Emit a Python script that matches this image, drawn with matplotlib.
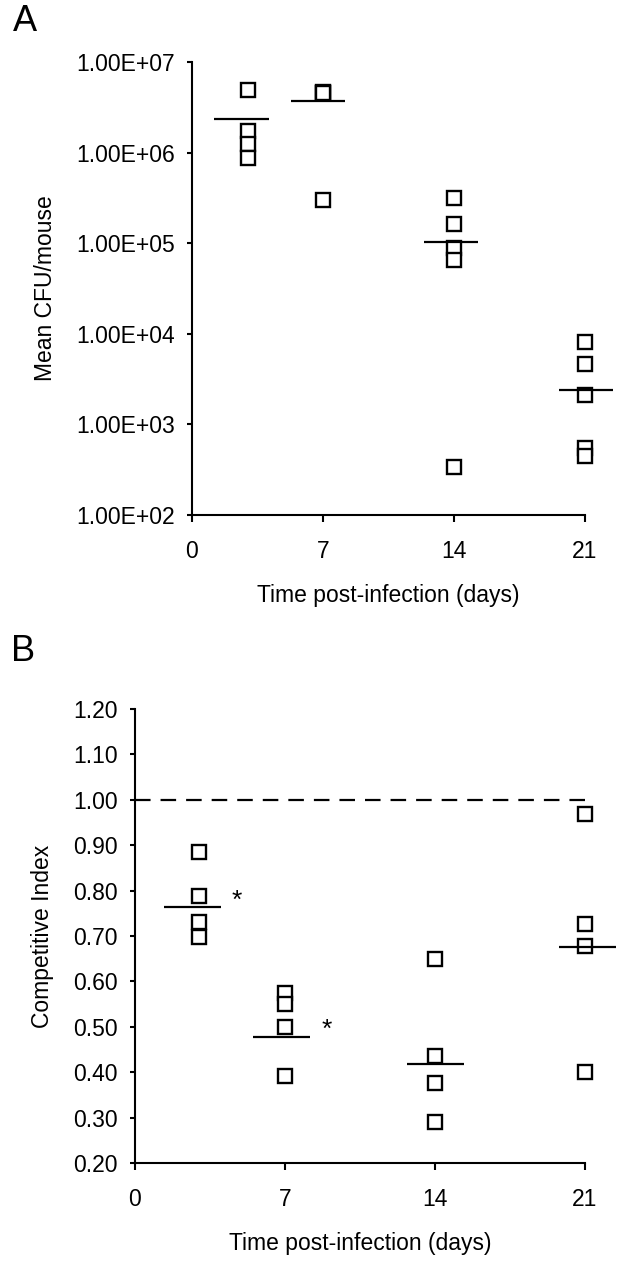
import matplotlib
matplotlib.use("Agg")
import matplotlib.pyplot as plt
import numpy as np

plt.rcParams['font.family'] = ['Liberation Sans', 'DejaVu Sans']

# Panel A: CFU per mouse (log scale)
cfu_days = [3, 3, 3, 3, 7, 7, 7, 7, 14, 14, 14, 14, 14, 21, 21, 21, 21, 21]
cfu_vals = [4.9e6, 1.73e6, 1.23e6, 8.8e5,
            4.7e6, 4.6e6, 4.5e6, 3.0e5,
            3.13e5, 1.63e5, 8.8e4, 6.6e4, 337,
            8.1e3, 4.7e3, 2.11e3, 545, 448]
cfu_mean_x = [2.65, 6.75, 13.84, 21.06]
cfu_mean = [2.33e6, 3.74e6, 1.04e5, 2.4e3]
cfu_ticks = [1e2, 1e3, 1e4, 1e5, 1e6, 1e7]
cfu_ticklabels = ["1.00E+02", "1.00E+03", "1.00E+04", "1.00E+05", "1.00E+06", "1.00E+07"]

# Panel B: competitive index
ci_days = [3, 3, 3, 3, 7, 7, 7, 7, 14, 14, 14, 14, 21, 21, 21, 21]
ci_vals = [0.886, 0.787, 0.731, 0.698,
           0.574, 0.550, 0.500, 0.392,
           0.649, 0.436, 0.377, 0.290,
           0.968, 0.726, 0.678, 0.400]
ci_mean_x = [2.67, 6.83, 14.04, 21.1]
ci_mean = [0.763, 0.477, 0.418, 0.675]
ci_ticks = [0.20, 0.30, 0.40, 0.50, 0.60, 0.70, 0.80, 0.90, 1.00, 1.10, 1.20]
sig_x = [4.76, 8.94]
sig_y = [0.777, 0.493]

day_ticks = [0, 7, 14, 21]
fs = 16.5

fig = plt.figure(figsize=(6.29, 12.68), dpi=100)
axA = fig.add_axes([0.3052, 0.5938, 0.930 - 0.3052, 0.9511 - 0.5938])
axB = fig.add_axes([0.2146, 0.0828, 0.930 - 0.2146, 0.4409 - 0.0828])

mk = dict(marker='s', ms=9.5, mfc='white', mec='black', mew=1.7, ls='none', clip_on=False, zorder=3)

for ax in (axA, axB):
    for s in ('top', 'right'):
        ax.spines[s].set_visible(False)
    for s in ('left', 'bottom'):
        ax.spines[s].set_linewidth(1.5)
    ax.set_xlim(0, 21)
    ax.set_xticks(day_ticks)
    ax.tick_params(axis='y', direction='out', length=3.8, width=1.5, labelsize=fs, pad=8.5)
    ax.tick_params(axis='x', direction='out', length=5, width=1.5, labelsize=fs, pad=13)
    ax.set_xlabel("Time post-infection (days)", fontsize=fs, labelpad=15)

# panel A
axA.set_yscale('log')
axA.set_ylim(1e2, 1e7)
axA.set_yticks(cfu_ticks)
axA.set_yticklabels(cfu_ticklabels)
axA.minorticks_off()
axA.plot(cfu_days, cfu_vals, **mk)
axA.hlines(cfu_mean, np.array(cfu_mean_x) - 1.45, np.array(cfu_mean_x) + 1.45,
           colors='black', lw=1.6, clip_on=False, zorder=4)
axA.set_ylabel("Mean CFU/mouse", fontsize=fs, labelpad=14)

# panel B
axB.set_ylim(0.2, 1.2)
axB.set_yticks(ci_ticks)
axB.set_yticklabels([f"{t:.2f}" for t in ci_ticks])
axB.plot([0, 21], [1.0, 1.0], color='black', lw=1.6, dashes=(7, 4.5), zorder=2)
axB.plot(ci_days, ci_vals, **mk)
axB.hlines(ci_mean, np.array(ci_mean_x) - 1.33, np.array(ci_mean_x) + 1.33,
           colors='black', lw=1.6, clip_on=False, zorder=4)
for x, y in zip(sig_x, sig_y):
    axB.text(x, y, "*", fontsize=19, ha='center', va='center')
axB.set_ylabel("Competitive Index", fontsize=fs, labelpad=14)

fig.text(0.04, 0.983, "A", fontsize=26, ha='center', va='center')
fig.text(0.037, 0.486, "B", fontsize=26, ha='center', va='center')

fig.savefig("out.png", dpi=100)
